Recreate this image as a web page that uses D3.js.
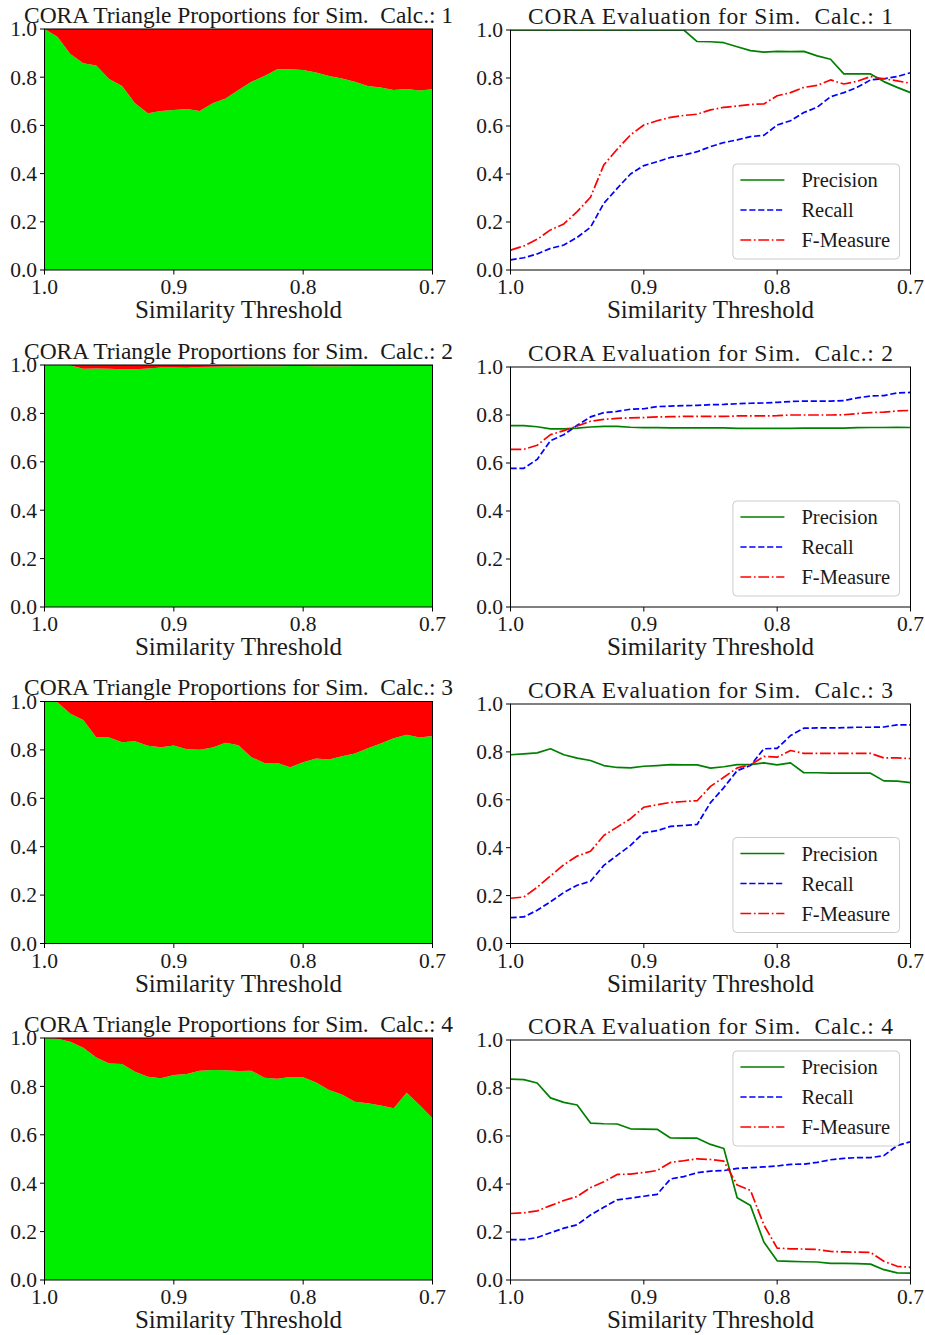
<!DOCTYPE html>
<html>
<head>
<meta charset="utf-8">
<script src="https://cdn.jsdelivr.net/npm/d3@7"></script>
<style>
  body { margin: 0; background: #fff; }
  svg text { font-family: "Liberation Serif", "DejaVu Serif", serif; fill: #1a1a1a; white-space: pre; }
</style>
</head>
<body>
<svg id="chart" width="925" height="1335"></svg>
<script>
// Similarity thresholds evaluated (x axis runs from 1.0 down to 0.7)
const thresholds = [1.00, 0.99, 0.98, 0.97, 0.96, 0.95, 0.94, 0.93, 0.92, 0.91,
                    0.90, 0.89, 0.88, 0.87, 0.86, 0.85, 0.84, 0.83, 0.82, 0.81,
                    0.80, 0.79, 0.78, 0.77, 0.76, 0.75, 0.74, 0.73, 0.72, 0.71, 0.70];

const xTicks = [1.0, 0.9, 0.8, 0.7];
const yTicks = [0.0, 0.2, 0.4, 0.6, 0.8, 1.0];
const calcIds = [1, 2, 3, 4];
const metricNames = ["Precision", "Recall", "F-Measure"];

// Share of correct triangles per threshold (remainder is incorrect)
const correct1 = [1.000, 0.968, 0.896, 0.858, 0.849, 0.793, 0.763, 0.692, 0.650, 0.660,
                  0.664, 0.668, 0.660, 0.692, 0.712, 0.747, 0.781, 0.805, 0.833, 0.833,
                  0.830, 0.819, 0.805, 0.795, 0.781, 0.763, 0.757, 0.747, 0.751, 0.745, 0.750];
const correct2 = [1.000, 1.000, 0.998, 0.984, 0.986, 0.984, 0.982, 0.982, 0.986, 0.990,
                  0.990, 0.989, 0.992, 0.993, 0.994, 0.994, 0.995, 0.995, 0.995, 0.996,
                  0.996, 0.995, 0.995, 0.995, 0.996, 0.996, 0.996, 0.996, 0.996, 0.996, 0.996];
const correct3 = [1.000, 0.997, 0.949, 0.924, 0.852, 0.851, 0.832, 0.836, 0.817, 0.811,
                  0.818, 0.803, 0.801, 0.810, 0.830, 0.819, 0.770, 0.746, 0.746, 0.728,
                  0.749, 0.764, 0.760, 0.774, 0.785, 0.807, 0.826, 0.848, 0.863, 0.851, 0.857];
const correct4 = [1.000, 0.997, 0.985, 0.960, 0.919, 0.895, 0.893, 0.861, 0.840, 0.834,
                  0.847, 0.851, 0.865, 0.868, 0.867, 0.864, 0.865, 0.836, 0.832, 0.839,
                  0.838, 0.816, 0.785, 0.767, 0.737, 0.730, 0.721, 0.710, 0.774, 0.723, 0.668];

// Evaluation metrics per threshold
const precision1 = [1.000, 1.000, 1.000, 1.000, 1.000, 1.000, 1.000, 1.000, 1.000, 1.000,
                    1.000, 1.000, 1.000, 1.000, 0.952, 0.951, 0.947, 0.930, 0.914, 0.908,
                    0.911, 0.910, 0.911, 0.892, 0.878, 0.817, 0.817, 0.817, 0.785, 0.761, 0.739];
const recall1 = [0.042, 0.051, 0.067, 0.090, 0.104, 0.136, 0.178, 0.278, 0.340, 0.400,
                 0.435, 0.451, 0.469, 0.479, 0.493, 0.514, 0.531, 0.542, 0.556, 0.561,
                 0.604, 0.622, 0.656, 0.678, 0.722, 0.739, 0.761, 0.792, 0.797, 0.806, 0.822];
const fmeasure1 = [0.083, 0.100, 0.128, 0.167, 0.192, 0.243, 0.303, 0.438, 0.503, 0.563,
                   0.604, 0.622, 0.636, 0.644, 0.649, 0.667, 0.678, 0.683, 0.690, 0.692,
                   0.726, 0.739, 0.761, 0.769, 0.792, 0.775, 0.786, 0.806, 0.797, 0.788, 0.778];

const precision2 = [0.756, 0.756, 0.751, 0.742, 0.742, 0.745, 0.750, 0.753, 0.753, 0.749,
                    0.747, 0.747, 0.746, 0.746, 0.746, 0.746, 0.746, 0.744, 0.744, 0.744,
                    0.744, 0.744, 0.745, 0.745, 0.745, 0.745, 0.747, 0.748, 0.748, 0.749, 0.748];
const recall2 = [0.578, 0.578, 0.615, 0.693, 0.718, 0.757, 0.792, 0.810, 0.815, 0.824,
                 0.826, 0.835, 0.837, 0.839, 0.840, 0.843, 0.844, 0.847, 0.849, 0.850,
                 0.853, 0.856, 0.858, 0.858, 0.858, 0.860, 0.871, 0.879, 0.881, 0.892, 0.894];
const fmeasure2 = [0.657, 0.657, 0.674, 0.718, 0.735, 0.754, 0.774, 0.782, 0.786, 0.788,
                   0.789, 0.792, 0.793, 0.794, 0.794, 0.794, 0.794, 0.796, 0.796, 0.796,
                   0.797, 0.800, 0.800, 0.800, 0.800, 0.801, 0.806, 0.810, 0.812, 0.817, 0.819];

const precision3 = [0.788, 0.792, 0.796, 0.813, 0.788, 0.774, 0.764, 0.743, 0.735, 0.733,
                    0.740, 0.743, 0.747, 0.746, 0.746, 0.732, 0.738, 0.747, 0.747, 0.754,
                    0.746, 0.754, 0.713, 0.713, 0.711, 0.711, 0.711, 0.711, 0.679, 0.678, 0.672];
const recall3 = [0.108, 0.111, 0.139, 0.174, 0.213, 0.243, 0.260, 0.326, 0.368, 0.410,
                 0.463, 0.471, 0.489, 0.493, 0.497, 0.588, 0.651, 0.722, 0.743, 0.813,
                 0.815, 0.868, 0.899, 0.900, 0.900, 0.901, 0.903, 0.903, 0.904, 0.913, 0.913];
const fmeasure3 = [0.189, 0.194, 0.235, 0.282, 0.329, 0.365, 0.385, 0.451, 0.486, 0.521,
                   0.569, 0.579, 0.589, 0.593, 0.596, 0.656, 0.694, 0.733, 0.746, 0.781,
                   0.778, 0.806, 0.794, 0.794, 0.794, 0.794, 0.794, 0.794, 0.775, 0.775, 0.772];

const precision4 = [0.837, 0.835, 0.821, 0.759, 0.740, 0.729, 0.654, 0.651, 0.650, 0.630,
                    0.629, 0.628, 0.592, 0.591, 0.591, 0.565, 0.548, 0.343, 0.310, 0.158,
                    0.080, 0.078, 0.076, 0.075, 0.069, 0.069, 0.068, 0.066, 0.043, 0.030, 0.029];
const recall4 = [0.168, 0.168, 0.177, 0.197, 0.216, 0.230, 0.271, 0.303, 0.334, 0.341,
                 0.349, 0.357, 0.421, 0.431, 0.447, 0.454, 0.456, 0.465, 0.468, 0.471,
                 0.475, 0.482, 0.483, 0.490, 0.501, 0.507, 0.510, 0.510, 0.518, 0.560, 0.576];
const fmeasure4 = [0.277, 0.280, 0.288, 0.310, 0.331, 0.348, 0.385, 0.409, 0.440, 0.441,
                   0.448, 0.456, 0.490, 0.497, 0.505, 0.502, 0.495, 0.396, 0.373, 0.230,
                   0.133, 0.130, 0.129, 0.127, 0.119, 0.117, 0.116, 0.115, 0.078, 0.057, 0.053];

const correctSeries = [correct1, correct2, correct3, correct4];
const metricSeries = [
  [precision1, recall1, fmeasure1],
  [precision2, recall2, fmeasure2],
  [precision3, recall3, fmeasure3],
  [precision4, recall4, fmeasure4]
];

// ---- layout & style ----
const colCorrect = "#00ee00", colWrong = "#ff0000";
const metricStyles = [
  { color: "#008000", dash: null },
  { color: "#0000ff", dash: "6.2,2.7" },
  { color: "#ff0000", dash: "10.8,2.7,1.7,2.7" }
];
const leftX = [44.5, 432.5], rightX = [510.5, 910.5];
const topsL = [29, 365, 701.5, 1038];
const topsR = [30, 367, 704, 1040];
const bottoms = [270, 607, 943.5, 1280];
const legendAtTop = [false, false, false, true];

const svg = d3.select("#chart");

function drawAxes(g, x, y, x0, x1, y0, y1, title, titleWidth) {
  // y ticks
  const yAxis = g.append("g");
  yTicks.forEach(t => {
    yAxis.append("line").attr("x1", x0 - 4.5).attr("x2", x0)
      .attr("y1", y(t)).attr("y2", y(t)).attr("stroke", "#000").attr("stroke-width", 1);
    yAxis.append("text").attr("x", x0 - 7.5).attr("y", y(t) + 7.3)
      .attr("text-anchor", "end").style("font-size", "21.5px").text(d3.format(".1f")(t));
  });
  // x ticks
  const xAxis = g.append("g");
  xTicks.forEach(t => {
    xAxis.append("line").attr("x1", x(t)).attr("x2", x(t))
      .attr("y1", y1).attr("y2", y1 + 4.5).attr("stroke", "#000").attr("stroke-width", 1);
    xAxis.append("text").attr("x", x(t)).attr("y", y1 + 24)
      .attr("text-anchor", "middle").style("font-size", "21.5px").text(d3.format(".1f")(t));
  });
  // frame
  g.append("rect").attr("x", x0).attr("y", y0).attr("width", x1 - x0).attr("height", y1 - y0)
    .attr("fill", "none").attr("stroke", "#000").attr("stroke-width", 1);
  g.append("text").attr("x", (x0 + x1) / 2).attr("y", y1 + 48.3)
    .attr("text-anchor", "middle").style("font-size", "25px").text("Similarity Threshold");
  g.append("text").attr("x", (x0 + x1) / 2).attr("y", y0 - 6.5)
    .attr("text-anchor", "middle").style("font-size", "23.5px")
    .attr("textLength", titleWidth).attr("lengthAdjust", "spacing")
    .text(title);
}

calcIds.forEach((id, r) => {
  // ---- left: stacked proportions ----
  {
    const [x0, x1] = leftX, y0 = topsL[r], y1 = bottoms[r];
    const x = d3.scaleLinear().domain([1.0, 0.7]).range([x0, x1]);
    const y = d3.scaleLinear().domain([0, 1]).range([y1, y0]);
    const rows = thresholds.map((t, i) => ({ t, correct: correctSeries[r][i], wrong: 1 - correctSeries[r][i] }));
    const stacked = d3.stack().keys(["correct", "wrong"])(rows);
    const area = d3.area().x(d => x(d.data.t)).y0(d => y(d[0])).y1(d => y(d[1]));
    const g = svg.append("g");
    g.selectAll("path.layer").data(stacked).join("path")
      .attr("class", "layer")
      .attr("fill", (d, i) => i === 0 ? colCorrect : colWrong)
      .attr("d", area);
    drawAxes(g, x, y, x0, x1, y0, y1, `CORA Triangle Proportions for Sim.  Calc.: ${id}`, 429);
  }
  // ---- right: precision / recall / F-measure ----
  {
    const [x0, x1] = rightX, y0 = topsR[r], y1 = bottoms[r];
    const x = d3.scaleLinear().domain([1.0, 0.7]).range([x0, x1]);
    const y = d3.scaleLinear().domain([0, 1]).range([y1, y0]);
    const g = svg.append("g");
    const clipId = `clip-${id}`;
    g.append("clipPath").attr("id", clipId).append("rect")
      .attr("x", x0).attr("y", y0).attr("width", x1 - x0).attr("height", y1 - y0);
    const line = d3.line().x((d, i) => x(thresholds[i])).y(d => y(d));
    metricSeries[r].forEach((vals, k) => {
      g.append("path").datum(vals)
        .attr("clip-path", `url(#${clipId})`)
        .attr("fill", "none")
        .attr("stroke", metricStyles[k].color)
        .attr("stroke-width", 1.7)
        .attr("stroke-linejoin", "round")
        .attr("stroke-dasharray", metricStyles[k].dash)
        .attr("d", line);
    });
    drawAxes(g, x, y, x0, x1, y0, y1, `CORA Evaluation for Sim.  Calc.: ${id}`, 365);

    // legend
    const lw = 166.6, lh = 95;
    const lx = x1 - 11 - lw;
    const ly = legendAtTop[r] ? y0 + 11 : y1 - 11 - lh;
    const lg = g.append("g").attr("transform", `translate(${lx},${ly})`);
    lg.append("rect").attr("x", 0).attr("y", 0).attr("width", lw).attr("height", lh)
      .attr("rx", 4).attr("fill", "#fff").attr("fill-opacity", 0.8)
      .attr("stroke", "#cccccc").attr("stroke-width", 1);
    metricNames.forEach((name, k) => {
      const yy = 16 + k * 30;
      lg.append("line").attr("x1", 7.5).attr("x2", 51.5).attr("y1", yy).attr("y2", yy)
        .attr("stroke", metricStyles[k].color).attr("stroke-width", 1.7)
        .attr("stroke-dasharray", metricStyles[k].dash);
      lg.append("text").attr("x", 68.5).attr("y", yy + 7).style("font-size", "20.5px").text(name);
    });
  }
});
</script>
</body>
</html>
